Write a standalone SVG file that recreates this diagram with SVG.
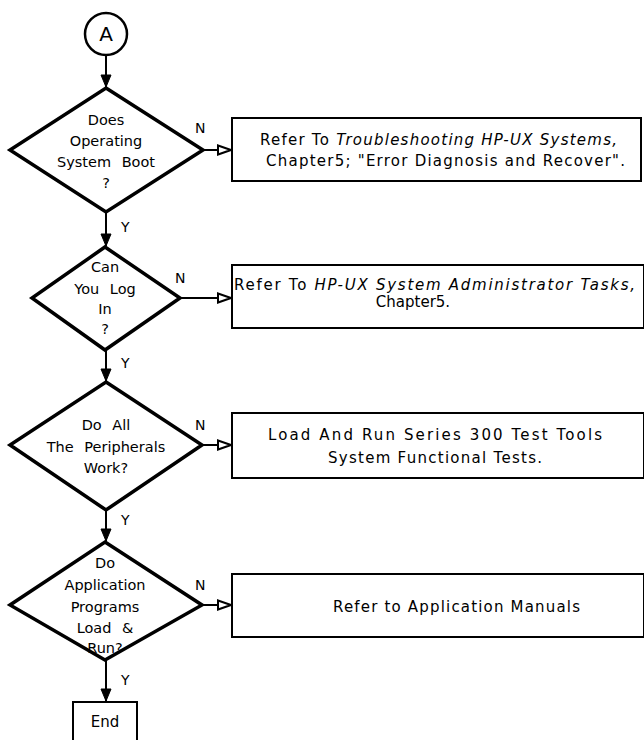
<svg xmlns="http://www.w3.org/2000/svg" width="644" height="740" viewBox="0 0 644 740">
<style>
text{font-family:"DejaVu Sans","Liberation Sans",sans-serif;font-size:14.5px;fill:#000}
.c{text-anchor:middle}
.it{font-style:italic}
.bt{font-size:15px}
.dia{fill:#fff;stroke:#000;stroke-width:3.5;stroke-linejoin:miter}
.box{fill:#fff;stroke:#000;stroke-width:2}
.ln{fill:none;stroke:#000;stroke-width:2}
.lbl{font-size:14px}
</style>
<defs>
<marker id="af" markerUnits="userSpaceOnUse" markerWidth="14" markerHeight="12" refX="13" refY="6" orient="auto"><path d="M1,1 L13,6 L1,11 Z" fill="#000" stroke="#000" stroke-width="1"/></marker>
<marker id="ah" markerUnits="userSpaceOnUse" markerWidth="16" markerHeight="12" refX="15" refY="6" orient="auto"><path d="M2,1.5 L15,6 L2,10.5 Z" fill="#fff" stroke="#000" stroke-width="2"/></marker>
</defs>
<g id="connectors">
<line class="ln" x1="106" y1="56" x2="106" y2="87" marker-end="url(#af)"/>
<line class="ln" x1="203" y1="150" x2="231" y2="150" marker-end="url(#ah)"/>
<line class="ln" x1="106" y1="213" x2="106" y2="246" marker-end="url(#af)"/>
<line class="ln" x1="180" y1="298" x2="231" y2="298" marker-end="url(#ah)"/>
<line class="ln" x1="106" y1="350" x2="106" y2="381" marker-end="url(#af)"/>
<line class="ln" x1="202" y1="445" x2="231" y2="445" marker-end="url(#ah)"/>
<line class="ln" x1="106" y1="510" x2="106" y2="541" marker-end="url(#af)"/>
<line class="ln" x1="202" y1="605" x2="231" y2="605" marker-end="url(#ah)"/>
<line class="ln" x1="106" y1="660" x2="106" y2="701" marker-end="url(#af)"/>
<text class="lbl" x="195" y="133">N</text>
<text class="lbl" x="121" y="232">Y</text>
<text class="lbl" x="175" y="283">N</text>
<text class="lbl" x="121" y="368">Y</text>
<text class="lbl" x="195" y="430">N</text>
<text class="lbl" x="121" y="525">Y</text>
<text class="lbl" x="195" y="590">N</text>
<text class="lbl" x="121" y="685">Y</text>
</g>
<g id="start">
<circle cx="106" cy="34" r="21" fill="#fff" stroke="#000" stroke-width="2.5"/>
<text class="c" x="106" y="41" style="font-size:20px">A</text>
</g>
<g id="d1">
<path class="dia" d="M106,88 L203,150 L106,212 L10,150 Z"/>
<text class="c" x="106" y="125">Does</text>
<text class="c" x="106" y="146">Operating</text>
<text class="c" x="106" y="167" word-spacing="6">System Boot</text>
<text class="c" x="106" y="188">?</text>
</g>
<g id="b1">
<rect class="box" x="232" y="118" width="409" height="63"/>
<text class="bt" x="260" y="145" textLength="357" lengthAdjust="spacing">Refer To <tspan class="it">Troubleshooting HP-UX Systems,</tspan></text>
<text class="bt" x="266" y="166" textLength="359" lengthAdjust="spacing">Chapter5; "Error Diagnosis and Recover".</text>
</g>
<g id="d2">
<path class="dia" d="M105,247 L180,298 L105,350 L32,298 Z"/>
<text class="c" x="105" y="272">Can</text>
<text class="c" x="105" y="294" word-spacing="6">You Log</text>
<text class="c" x="105" y="314">In</text>
<text class="c" x="105" y="334">?</text>
</g>
<g id="b2">
<rect class="box" x="232" y="265" width="412" height="63"/>
<text class="bt" x="234" y="290" textLength="401" lengthAdjust="spacing">Refer To <tspan class="it">HP-UX System Administrator Tasks,</tspan></text>
<text class="c bt" x="413" y="307">Chapter5.</text>
</g>
<g id="d3">
<path class="dia" d="M106,382 L202,445 L106,510 L10,445 Z"/>
<text class="c" x="106" y="430" word-spacing="6">Do All</text>
<text class="c" x="106" y="452" word-spacing="6">The Peripherals</text>
<text class="c" x="106" y="473">Work?</text>
</g>
<g id="b3">
<rect class="box" x="232" y="413" width="412" height="65"/>
<text class="bt" x="268" y="440" textLength="334" lengthAdjust="spacing">Load And Run Series 300 Test Tools</text>
<text class="bt" x="328" y="463" textLength="214" lengthAdjust="spacing">System Functional Tests.</text>
</g>
<g id="d4">
<path class="dia" d="M105,542 L202,605 L105,660 L10,605 Z"/>
<text class="c" x="105" y="568">Do</text>
<text class="c" x="105" y="590">Application</text>
<text class="c" x="105" y="612">Programs</text>
<text class="c" x="105" y="633" word-spacing="6">Load &amp;</text>
<text class="c" x="105" y="653">Run?</text>
</g>
<g id="b4">
<rect class="box" x="232" y="574" width="412" height="63"/>
<text class="bt" x="333" y="612" textLength="247" lengthAdjust="spacing">Refer to Application Manuals</text>
</g>
<g id="end">
<rect class="box" x="73" y="702" width="64" height="42"/>
<text class="c bt" x="105" y="727">End</text>
</g>
</svg>
